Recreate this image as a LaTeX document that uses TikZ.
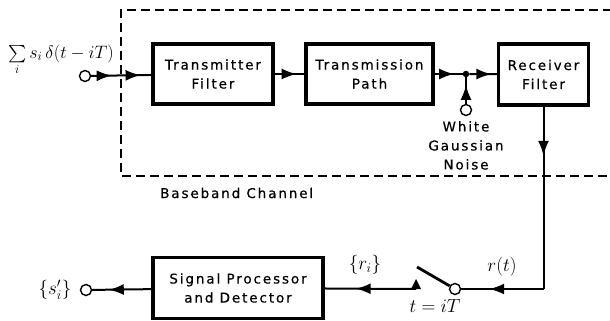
\RequirePackage{fix-cm}
\documentclass[tikz,border=0pt]{standalone}
\usepackage{amsmath}
\usepackage{fontspec}
\usetikzlibrary{arrows.meta,decorations.markings}
\newfontfamily\lblfont[LetterSpace=14,FakeBold=0.5]{DejaVu Sans}
\begin{document}
\begin{tikzpicture}[x=1pt,y=-1pt,
  txt/.style={font=\lblfont\fontsize{13.5}{19}\selectfont,align=center,inner sep=0pt},
  mathlbl/.style={font=\fontsize{19}{21}\selectfont,inner sep=0pt},
  block/.style={draw,line width=3.2pt,txt},
  term/.style={draw,circle,line width=1.4pt,minimum size=11pt,inner sep=0pt},
  wire/.style={line width=2pt},
  tip/.tip={Latex[length=15pt,width=11pt]},
  arrowat/.style={wire,postaction={decorate},decoration={markings,
      mark=at position #1 with {\arrow{tip}}}},
  twoarrows/.style 2 args={wire,postaction={decorate},decoration={markings,
      mark=at position #1 with {\arrow{tip}},
      mark=at position #2 with {\arrow{tip}}}},
]
\useasboundingbox (0,0) rectangle (610,321);

% baseband channel outline
\draw[line width=1.8pt,dash pattern=on 9pt off 5pt] (612,10) -- (121,10) -- (121,176) -- (612,176);
\node[txt,anchor=west] (bbc) at (160,193) {Baseband Channel};

% blocks
\node[block,minimum width=120pt,minimum height=60pt] (tx) at (213,74) {Transmitter\\Filter};
\node[block,minimum width=127pt,minimum height=60pt] (path) at (369.5,74) {Transmission\\Path};
\node[block,minimum width=90pt,minimum height=61pt] (rx) at (543.5,74.5) {Receiver\\Filter};
\node[block,minimum width=170pt,minimum height=61pt] (det) at (238,288) {Signal Processor\\and Detector};

% terminals and junction
\node[term] (in) at (85,76) {};
\node[mathlbl,anchor=west,font=\fontsize{18}{20}\selectfont] (inlbl) at (8,60) {$\sum\limits_i s_i\,\delta(t-iT)$};
\node[circle,fill,inner sep=0pt,minimum size=6.5pt] (sum) at (466,74) {};
\node[term] (noise) at (466,110) {};
\node[txt,anchor=north] (noiselbl) at (466,121) {White\\Gaussian\\Noise};
\coordinate (bend) at (543.5,289);
\node[term] (sw) at (455,289) {};
\coordinate (contact) at (416,289);
\coordinate (lever) at (417,267);
\node[term] (out) at (86,290) {};
\node[mathlbl] (outlbl) at (55,290) {$\{s'_i\}$};
\node[mathlbl] (rilbl) at (365,265) {$\{r_i\}$};
\node[mathlbl] (rtlbl) at (502,267) {$r(t)$};
\node[mathlbl] (swlbl) at (435,306) {$t=iT$};

% signal flow
\draw[twoarrows={0.34}{0.82}] (in) -- (tx);
\draw[arrowat=0.74] (tx) -- (path);
\draw[arrowat=0.7] (path) -- (sum);
\draw[arrowat=0.8] (sum) -- (rx);
\draw[arrowat=0.72] (noise) -- (sum);
\draw[arrowat=0.27] (rx.south) -- (bend);
\draw[arrowat=0.66] (bend) -- (sw);
\draw[line width=2.8pt] (sw) -- (lever);
\fill (contact) ++(-5,0) -- ++(10,0) -- ++(-5,-10) -- cycle;
\draw[arrowat=0.66] (contact) -- (det);
\draw[arrowat=0.72] (det) -- (out);
\end{tikzpicture}
\end{document}
